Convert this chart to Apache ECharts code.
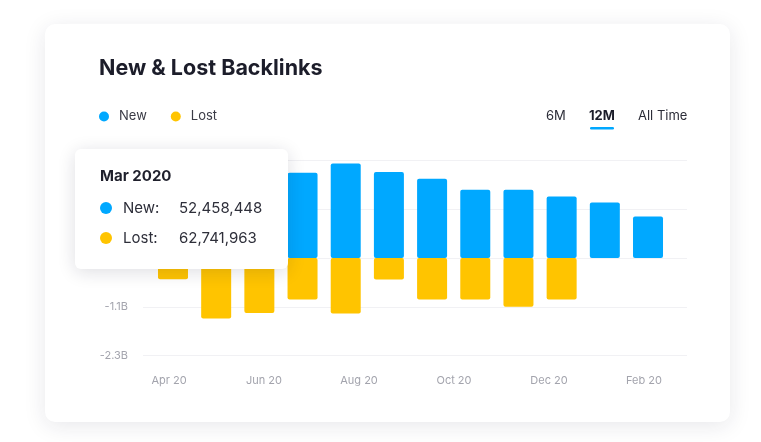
<!DOCTYPE html>
<html>
<head>
<meta charset="utf-8">
<script src="https://cdn.jsdelivr.net/npm/echarts@6/dist/echarts.min.js"></script>
<style>
  html, body { margin: 0; padding: 0; background: #ffffff; width: 761px; height: 442px; overflow: hidden; }
  #card { position: absolute; left: 45px; top: 24px; width: 685px; height: 398px; background: #fff;
          border-radius: 10px; box-shadow: 0 4px 22px rgba(30, 30, 60, 0.10); }
  #chart { position: absolute; left: 0; top: 0; width: 761px; height: 442px; }
</style>
</head>
<body>
<div id="card"></div>
<div id="chart"></div>
<script>
// ---- data (billions) ----
const months = ['Apr 20','May 20','Jun 20','Jul 20','Aug 20','Sep 20','Oct 20','Nov 20','Dec 20','Jan 21','Feb 21','Mar 21'];
const newValues  = [1.90, 2.15, 2.05, 2.01, 2.23, 2.03, 1.87, 1.61, 1.61, 1.45, 1.31, 0.98];
const lostValues = [-0.50, -1.43, -1.30, -0.98, -1.31, -0.51, -0.98, -0.98, -1.15, -0.98, null, null];
const xLabels = ['Apr 20','Jun 20','Aug 20','Oct 20','Dec 20','Feb 20'];
const rangeTabs = ['6M','12M','All Time'];
const tipTitle = 'Mar 2020';
const tipNames = ['New:', 'Lost:'];
const tipValues = ['52,458,448', '62,741,963'];

const BLUE = '#00A8FF', YELLOW = '#FFC400';
const FONT = 'Inter, "Noto Sans", sans-serif';
const yMin = -2.3, yMax = 2.3, yStep = 1.15;

const chart = echarts.init(document.getElementById('chart'), null, { renderer: 'canvas' });

const gridTop = 160.5, gridBottom = 86.5;
const hiddenY = (gi) => ({ type: 'value', gridIndex: gi, min: yMin, max: yMax, interval: yStep, show: false });

chart.setOption({
  animation: false,
  backgroundColor: 'transparent',
  textStyle: { fontFamily: FONT },
  title: {
    text: 'New & Lost Backlinks', left: 94, top: 53,
    textStyle: { fontFamily: FONT, fontSize: 21.5, fontWeight: 700, color: '#1c1d2a' }
  },
  legend: {
    left: 94, top: 105, icon: 'circle', itemWidth: 10, itemHeight: 10, itemGap: 24,
    textStyle: { fontFamily: FONT, fontSize: 13, color: '#3a3b46', padding: [0, 0, 0, 5] },
    data: ['New', 'Lost']
  },
  grid: [
    { left: 151.4, right: 91.4, top: gridTop, bottom: gridBottom },
    { left: 143, right: 74, top: gridTop, bottom: gridBottom },
    { left: 121.5, right: 69.5, top: gridTop, bottom: gridBottom }
  ],
  xAxis: [
    { type: 'category', gridIndex: 0, data: months, show: false },
    { type: 'category', gridIndex: 1, data: months, show: false },
    { type: 'category', gridIndex: 2, data: xLabels, boundaryGap: true,
      axisLine: { show: false }, axisTick: { show: false }, splitLine: { show: false },
      axisLabel: { margin: 19.5, fontFamily: FONT, fontSize: 11, color: '#a3a4ad' } }
  ],
  yAxis: [
    hiddenY(0),
    { type: 'value', gridIndex: 1, min: yMin, max: yMax, interval: yStep,
      axisLine: { show: false }, axisTick: { show: false },
      splitLine: { show: true, lineStyle: { color: '#f1f1f4', width: 1 } },
      axisLabel: { margin: 15, fontFamily: FONT, fontSize: 11, color: '#a3a4ad',
        formatter: v => Math.abs(v) < 1e-9 ? '0' : (v.toFixed(1) + 'B') } },
    hiddenY(2)
  ],
  series: [
    { name: 'New', type: 'bar', xAxisIndex: 0, yAxisIndex: 0, stack: 'bl', barWidth: 30,
      data: newValues, itemStyle: { color: BLUE, borderRadius: 2 }, z: 3 },
    { name: 'Lost', type: 'bar', xAxisIndex: 0, yAxisIndex: 0, stack: 'bl', barWidth: 30,
      data: lostValues, itemStyle: { color: YELLOW, borderRadius: 2 }, z: 3 }
  ],
  graphic: [
    // range tabs
    { type: 'text', left: 546, top: 110, z: 10,
      style: { text: rangeTabs[0], font: '400 13px ' + FONT, fill: '#2c2d38' } },
    { type: 'text', left: 589, top: 110, z: 10,
      style: { text: rangeTabs[1], font: '700 13px ' + FONT, fill: '#1c1d2a' } },
    { type: 'rect', left: 590, top: 127, z: 10,
      shape: { width: 24, height: 2.5, r: 1.25 }, style: { fill: BLUE } },
    { type: 'text', left: 638, top: 110, z: 10,
      style: { text: rangeTabs[2], font: '400 13px ' + FONT, fill: '#2c2d38' } },
    // tooltip card
    { type: 'group', left: 75, top: 149, z: 100, children: [
      { type: 'rect', shape: { x: 0, y: 0, width: 213, height: 120, r: 6 }, z: 100,
        style: { fill: '#ffffff', shadowBlur: 18, shadowOffsetY: 3, shadowColor: 'rgba(20,20,50,0.14)' } },
      { type: 'text', x: 25, y: 20, z: 101,
        style: { text: tipTitle, font: '700 15px ' + FONT, fill: '#1f202c' } },
      { type: 'circle', shape: { cx: 31, cy: 59, r: 6 }, z: 101, style: { fill: BLUE } },
      { type: 'text', x: 48, y: 52, z: 101,
        style: { text: tipNames[0], font: '400 15px ' + FONT, fill: '#2e2f3a' } },
      { type: 'text', x: 104, y: 52, z: 101,
        style: { text: tipValues[0], font: '400 15px ' + FONT, fill: '#2e2f3a' } },
      { type: 'circle', shape: { cx: 31, cy: 89, r: 6 }, z: 101, style: { fill: YELLOW } },
      { type: 'text', x: 48, y: 82, z: 101,
        style: { text: tipNames[1], font: '400 15px ' + FONT, fill: '#2e2f3a' } },
      { type: 'text', x: 104, y: 82, z: 101,
        style: { text: tipValues[1], font: '400 15px ' + FONT, fill: '#2e2f3a' } }
    ]}
  ]
});
</script>
</body>
</html>
